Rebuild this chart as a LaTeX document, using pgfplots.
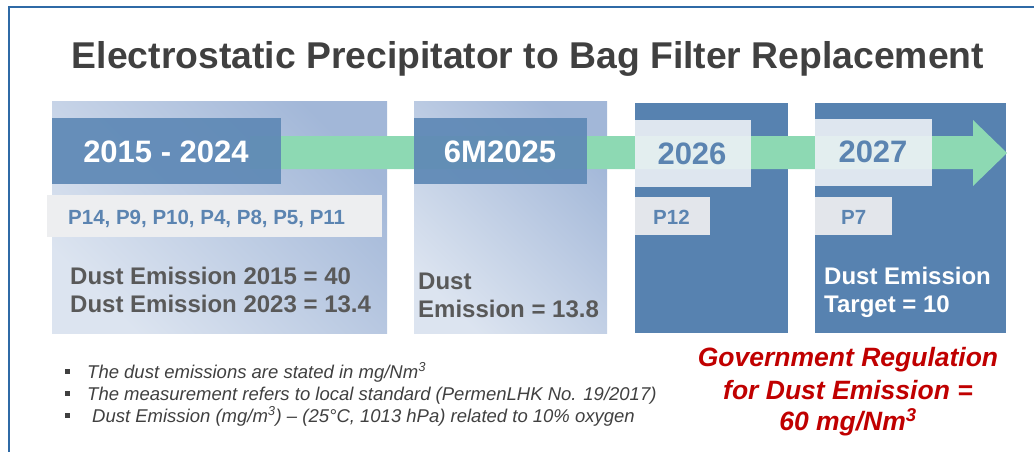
\documentclass[border=0pt]{standalone}
\usepackage{fontspec}
\setmainfont{Liberation Sans}
\usepackage{pgfplots}
\pgfplotsset{compat=1.18}
\definecolor{framec}{HTML}{2F6AA6}
\definecolor{titlec}{HTML}{404040}
\definecolor{lightA}{HTML}{DCE4F0}
\definecolor{lightB}{HTML}{A2B7D8}
\definecolor{darkA}{HTML}{5F89B6}
\definecolor{boxB}{HTML}{5782B0}
\definecolor{tagc}{HTML}{EDF1F6}
\definecolor{grayt}{HTML}{EDEEF0}
\definecolor{grayt2}{HTML}{E3E6EB}
\definecolor{greenc}{HTML}{8DD9B3}
\definecolor{bluet}{HTML}{5B84B1}
\definecolor{textg}{HTML}{595959}
\definecolor{notec}{HTML}{404040}
\definecolor{redt}{HTML}{C00000}
\begin{document}
\begin{tikzpicture}[every node/.style={inner sep=0pt}]
\begin{axis}[scale only axis, width=1034bp, height=452bp,
  xmin=0, xmax=1034, ymin=0, ymax=452, y dir=reverse,
  hide axis, clip=false]
% frame
\addplot[framec, line width=2.2bp] coordinates {(1034,7) (9,7) (9,452)};
% light gradient boxes
\addplot[draw=none, top color=lightB, bottom color=lightA, shading angle=-45] coordinates {(52,101) (387,101) (387,333) (52,333)} -- cycle;
\addplot[draw=none, top color=lightB, bottom color=lightA, shading angle=-45] coordinates {(414,101) (607,101) (607,333) (414,333)} -- cycle;
% dark boxes
\addplot[draw=none, fill=boxB] coordinates {(635,103) (788,103) (788,333) (635,333)} -- cycle;
\addplot[draw=none, fill=boxB] coordinates {(815,103) (1006,103) (1006,333) (815,333)} -- cycle;
% green arrow
\addplot[draw=none, fill=greenc] coordinates {(250,136) (973,136) (973,120) (1007,153) (973,186) (973,169) (250,169)} -- cycle;
% year boxes
\addplot[draw=none, fill=darkA, fill opacity=0.93] coordinates {(52,118) (281,118) (281,184) (52,184)} -- cycle;
\addplot[draw=none, fill=darkA, fill opacity=0.93] coordinates {(414,118) (587,118) (587,184) (414,184)} -- cycle;
\addplot[draw=none, fill=tagc, fill opacity=0.9] coordinates {(635,120) (751,120) (751,187) (635,187)} -- cycle;
\addplot[draw=none, fill=tagc, fill opacity=0.9] coordinates {(815,119) (932,119) (932,186) (815,186)} -- cycle;
% plant tags
\addplot[draw=none, fill=grayt] coordinates {(47,195) (382,195) (382,237) (47,237)} -- cycle;
\addplot[draw=none, fill=grayt2] coordinates {(635,197) (710,197) (710,235) (635,235)} -- cycle;
\addplot[draw=none, fill=grayt2] coordinates {(815,197) (892,197) (892,235) (815,235)} -- cycle;
% title
\node[font=\fontsize{37.3bp}{44bp}\selectfont\bfseries, text=titlec, anchor=base] at (axis cs:528,69) {Electrostatic Precipitator to Bag Filter Replacement};
% year labels
\node[font=\fontsize{31bp}{36bp}\selectfont\bfseries, text=white, anchor=base] at (axis cs:166,162) {2015 - 2024};
\node[font=\fontsize{31bp}{36bp}\selectfont\bfseries, text=white, anchor=base] at (axis cs:500,162) {6M2025};
\node[font=\fontsize{31bp}{36bp}\selectfont\bfseries, text=bluet, anchor=base] at (axis cs:692,164) {2026};
\node[font=\fontsize{31bp}{36bp}\selectfont\bfseries, text=bluet, anchor=base] at (axis cs:873,162) {2027};
% plant labels
\node[font=\fontsize{20.5bp}{24bp}\selectfont\bfseries, text=bluet, anchor=base west] at (axis cs:68,224) {P14, P9, P10, P4, P8, P5, P11};
\node[font=\fontsize{20.5bp}{24bp}\selectfont\bfseries, text=bluet, anchor=base west] at (axis cs:653,224) {P12};
\node[font=\fontsize{20.5bp}{24bp}\selectfont\bfseries, text=bluet, anchor=base west] at (axis cs:841,224) {P7};
% dust emission texts
\node[font=\fontsize{24bp}{28bp}\selectfont\bfseries, text=textg, anchor=base west] at (axis cs:70,284) {Dust Emission 2015 = 40};
\node[font=\fontsize{24bp}{28bp}\selectfont\bfseries, text=textg, anchor=base west] at (axis cs:70,312) {Dust Emission 2023 = 13.4};
\node[font=\fontsize{24bp}{28bp}\selectfont\bfseries, text=textg, anchor=base west] at (axis cs:418,289) {Dust};
\node[font=\fontsize{24bp}{28bp}\selectfont\bfseries, text=textg, anchor=base west] at (axis cs:418,317) {Emission = 13.8};
\node[font=\fontsize{24bp}{28bp}\selectfont\bfseries, text=white, anchor=base west] at (axis cs:824,284) {Dust Emission};
\node[font=\fontsize{24bp}{28bp}\selectfont\bfseries, text=white, anchor=base west] at (axis cs:824,312) {Target = 10};
% notes
\node[font=\fontsize{18.5bp}{22bp}\selectfont\itshape, text=notec, anchor=base west] at (axis cs:87,378) {The dust emissions are stated in mg/Nm\textsuperscript{3}};
\node[font=\fontsize{18.5bp}{22bp}\selectfont\itshape, text=notec, anchor=base west] at (axis cs:87,400) {The measurement refers to local standard (PermenLHK No. 19/2017)};
\node[font=\fontsize{18.5bp}{22bp}\selectfont\itshape, text=notec, anchor=base west] at (axis cs:92,422) {Dust Emission (mg/m\textsuperscript{3}) – (25°C, 1013 hPa) related to 10\% oxygen};
\addplot[draw=none, fill=notec] coordinates {(65,369) (70,369) (70,374) (65,374)} -- cycle;
\addplot[draw=none, fill=notec] coordinates {(65,391) (70,391) (70,396) (65,396)} -- cycle;
\addplot[draw=none, fill=notec] coordinates {(65,413) (70,413) (70,418) (65,418)} -- cycle;
% regulation
\node[font=\fontsize{26.5bp}{31bp}\selectfont\bfseries\itshape, text=redt, anchor=base] at (axis cs:848,366) {Government Regulation};
\node[font=\fontsize{26.5bp}{31bp}\selectfont\bfseries\itshape, text=redt, anchor=base] at (axis cs:848,399) {for Dust Emission =};
\node[font=\fontsize{26.5bp}{31bp}\selectfont\bfseries\itshape, text=redt, anchor=base] at (axis cs:848,430) {60 mg/Nm\textsuperscript{3}};
\end{axis}
\pgfresetboundingbox
\path[use as bounding box] (current axis.south west) rectangle (current axis.north east);
\end{tikzpicture}
\end{document}
